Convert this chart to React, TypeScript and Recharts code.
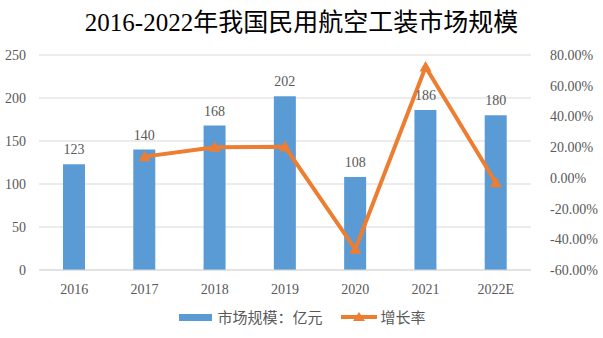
import {
  Bar,
  CartesianGrid,
  ComposedChart,
  LabelList,
  Legend,
  Line,
  XAxis,
  YAxis,
} from "recharts";

// chart values
const years = ["2016", "2017", "2018", "2019", "2020", "2021", "2022E"];
const marketSize = [123, 140, 168, 202, 108, 186, 180];
const growthRate = [null, 13.82, 20.0, 20.24, -46.53, 72.22, -3.23];
const leftTicks = [0, 50, 100, 150, 200, 250];
const rightTicks = [-60, -40, -20, 0, 20, 40, 60, 80];

const data = years.map((year, i) => ({
  year,
  size: marketSize[i],
  rate: growthRate[i],
}));

const BLUE = "#5B9BD5";
const ORANGE = "#ED7D31";
const SERIF = '"Liberation Serif", "Times New Roman", serif';
const CJK = '"Noto Sans CJK SC", "Noto Sans", sans-serif';

// triangle marker
const Triangle = (props: any) => {
  const { cx, cy } = props;
  if (cx == null || cy == null) return null;
  return (
    <path
      d={`M${cx},${cy - 6} L${cx + 6},${cy + 4.5} L${cx - 6},${cy + 4.5} Z`}
      fill={ORANGE}
    />
  );
};

const LegendContent = () => (
  <div
    style={{
      display: "flex",
      alignItems: "center",
      justifyContent: "center",
      fontFamily: CJK,
      fontSize: 15,
      lineHeight: "22px",
      color: "#595959",
      paddingLeft: 2,
    }}
  >
    <span
      style={{ width: 33, height: 7, background: BLUE, display: "inline-block" }}
    />
    <span style={{ marginLeft: 5 }}>市场规模：亿元</span>
    <svg width={36} height={12} style={{ marginLeft: 18 }}>
      <line x1={0} y1={6} x2={36} y2={6} stroke={ORANGE} strokeWidth={4} />
      <path d="M18,1 L24,10 L12,10 Z" fill={ORANGE} />
    </svg>
    <span style={{ marginLeft: 4 }}>增长率</span>
  </div>
);

export default function App() {
  return (
    <div
      style={{
        position: "absolute",
        left: 0,
        top: 0,
        width: 603,
        height: 338,
        background: "#fff",
      }}
    >
      <div
        style={{
          position: "absolute",
          left: 0,
          top: 7,
          width: 603,
          textAlign: "center",
          fontFamily: `"Liberation Serif", "Noto Sans CJK SC", serif`,
          fontSize: 25,
          color: "#000",
          lineHeight: "32px",
        }}
      >
        2016-2022年我国民用航空工装市场规模
      </div>
      <ComposedChart
        width={603}
        height={338}
        data={data}
        margin={{ top: 55, right: 0, left: 0, bottom: 0 }}
      >
        <CartesianGrid yAxisId="left" vertical={false} stroke="#D9D9D9" />
        <XAxis
          dataKey="year"
          axisLine={{ stroke: "#D9D9D9" }}
          tickLine={false}
          tickMargin={8}
          height={30}
          tick={{ fill: "#595959", fontSize: 14, fontFamily: SERIF }}
        />
        <YAxis
          yAxisId="left"
          width={39}
          domain={[0, 250]}
          ticks={leftTicks}
          axisLine={false}
          tickLine={false}
          tickMargin={7}
          tick={{ fill: "#595959", fontSize: 14, fontFamily: SERIF }}
        />
        <YAxis
          yAxisId="right"
          orientation="right"
          width={72}
          domain={[-60, 80]}
          ticks={rightTicks}
          axisLine={false}
          tickLine={false}
          tickMargin={13}
          tickFormatter={(v: number) => `${v.toFixed(2)}%`}
          tick={{ fill: "#595959", fontSize: 14, fontFamily: SERIF, textAnchor: "start" }}
        />
        <Legend
          verticalAlign="bottom"
          height={38}
          content={<LegendContent />}
          wrapperStyle={{ top: 306, bottom: "auto", left: 0, width: 603 }}
        />
        <Bar
          yAxisId="left"
          dataKey="size"
          fill={BLUE}
          barSize={22}
          isAnimationActive={false}
        >
          <LabelList
            dataKey="size"
            position="top"
            offset={10}
            fill="#595959"
            fontSize={14}
            fontFamily={SERIF}
          />
        </Bar>
        <Line
          yAxisId="right"
          dataKey="rate"
          stroke={ORANGE}
          strokeWidth={4}
          dot={<Triangle />}
          activeDot={false}
          isAnimationActive={false}
        />
      </ComposedChart>
    </div>
  );
}
